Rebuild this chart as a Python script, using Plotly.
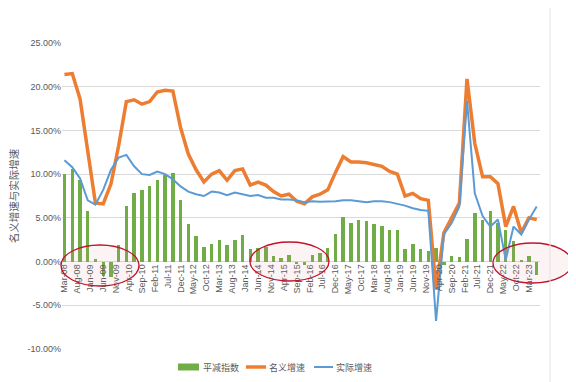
import plotly.graph_objects as go
import pandas as pd

# Quarterly data, 2008Q1 (Mar-08) .. 2023Q2 (Jun-23)
quarters = pd.date_range("2008-03-01", "2023-06-01", freq="3MS").strftime("%Y-%m-%d").tolist()

nominal = [21.4, 21.5, 18.6, 12.5, 6.7, 6.6, 8.9, 13.3, 18.3, 18.5, 18.0, 18.3, 19.4, 19.6, 19.5, 15.3,
           12.3, 10.5, 9.1, 10.0, 10.4, 9.3, 10.4, 10.6, 8.75, 9.1, 8.75, 8.0, 7.5, 7.7, 6.9, 6.6,
           7.4, 7.7, 8.2, 10.2, 12.0, 11.4, 11.4, 11.3, 11.1, 10.9, 10.3, 10.0, 7.5, 7.8, 7.2, 7.0,
           -3.2, 3.3, 5.0, 6.7, 20.9, 13.5, 9.7, 9.7, 8.9, 4.0, 6.3, 3.3, 5.0, 4.8]

real = [11.6, 10.8, 9.5, 7.0, 6.5, 8.2, 10.5, 11.9, 12.2, 10.9, 10.0, 9.9, 10.3, 10.0, 9.4, 8.6,
        8.0, 7.7, 7.5, 8.0, 7.9, 7.6, 7.9, 7.7, 7.5, 7.6, 7.3, 7.3, 7.1, 7.1, 7.0, 6.8,
        6.9, 6.85, 6.85, 6.9, 7.0, 7.0, 6.9, 6.8, 6.9, 6.9, 6.8, 6.6, 6.4, 6.1, 5.9, 5.8,
        -6.8, 3.1, 4.4, 6.3, 18.4, 7.8, 5.2, 4.0, 4.8, 0.2, 4.0, 3.1, 4.8, 6.3]

deflator = [10.0, 10.6, 9.3, 5.8, 0.3, -1.7, -1.8, 1.9, 6.3, 7.8, 8.2, 8.6, 9.3, 9.9, 10.1, 7.0,
            4.3, 2.9, 1.7, 2.0, 2.5, 1.85, 2.5, 3.0, 1.4, 1.55, 1.7, 0.6, 0.4, 0.7, -0.3, -0.4,
            0.7, 1.0, 1.5, 3.1, 5.1, 4.4, 4.7, 4.6, 4.3, 4.1, 3.6, 3.6, 1.4, 2.0, 1.4, 1.2,
            1.5, -0.4, 0.6, 0.5, 2.6, 5.6, 4.8, 5.8, 4.4, 3.6, 2.3, 0.15, 0.6, -1.5]

series_names = ["平减指数", "名义增速", "实际增速"]
y_title = "名义增速与实际增速"
y_ticks = [-10, -5, 0, 5, 10, 15, 20, 25]
y_tick_labels = ["-10.00%", "-5.00%", "0.00%", "5.00%", "10.00%", "15.00%", "20.00%", "25.00%"]

GREEN = "#70AD47"
ORANGE = "#ED7D31"
BLUE = "#5B9BD5"
GRID = "#D9D9D9"
TXT = "#595959"
FONT = "Liberation Sans, Noto Sans CJK SC, sans-serif"
colors = [GREEN, ORANGE, BLUE]

fig = go.Figure()
fig.add_trace(go.Bar(x=quarters, y=deflator, name=series_names[0], marker_color=GREEN,
                     width=40 * 86400000, marker_line_width=0))
fig.add_trace(go.Scatter(x=quarters, y=nominal, name=series_names[1], mode="lines",
                         line=dict(color=ORANGE, width=3.5)))
fig.add_trace(go.Scatter(x=quarters, y=real, name=series_names[2], mode="lines",
                         line=dict(color=BLUE, width=2)))

OFF = 8  # page body margin
W, H = 576 - OFF, 382 - OFF
ml, mt = 62 - OFF, 43 - OFF
mr = W - (540 - OFF)
mb = H - (349 - OFF)
pw, ph = W - ml - mr, H - mt - mb

def px(x):  # screen x -> paper fraction
    return (x - OFF - ml) / pw

def py(y):  # screen y -> paper fraction
    return (H - mb - (y - OFF)) / ph

ellipses = [(61, 245, 139, 286), (250, 242, 329, 281), (493, 243, 572, 283)]
shapes = []
for (x0, y0, x1, y1) in ellipses:
    shapes.append(dict(type="circle", xref="paper", yref="paper",
                       x0=px(x0), x1=px(x1), y0=py(y1), y1=py(y0),
                       line=dict(color="#C0142B", width=1.3),
                       fillcolor="rgba(225,140,150,0.10)", layer="above"))
shapes.append(dict(type="line", xref="paper", yref="paper", x0=px(550), x1=px(550),
                   y0=py(382), y1=py(0), line=dict(color="#E3E3E3", width=1)))

# custom legend (Excel style)
leg_y = 367
leg_items = [(178, 199, 201), (246, 266, 267), (314, 333, 334)]
annotations = []
for k, (s0, s1, tx) in enumerate(leg_items):
    if k == 0:
        shapes.append(dict(type="rect", xref="paper", yref="paper",
                           x0=px(s0), x1=px(s1), y0=py(leg_y + 3.5), y1=py(leg_y - 3.5),
                           fillcolor=colors[k], line=dict(width=0)))
    else:
        shapes.append(dict(type="line", xref="paper", yref="paper",
                           x0=px(s0), x1=px(s1), y0=py(leg_y), y1=py(leg_y),
                           line=dict(color=colors[k], width=3.5 if k == 1 else 2)))
    annotations.append(dict(text=series_names[k], xref="paper", yref="paper",
                            x=px(tx), y=py(leg_y), xanchor="left", yanchor="middle",
                            showarrow=False, font=dict(size=9, color=TXT)))

fig.update_layout(
    width=W, height=H,
    margin=dict(l=ml, r=mr, t=mt, b=mb, autoexpand=False),
    paper_bgcolor="white", plot_bgcolor="white",
    font=dict(family=FONT, color=TXT, size=9),
    bargap=0,
    showlegend=False,
    shapes=shapes,
    annotations=annotations,
    xaxis=dict(type="date", range=["2008-02-01", "2023-07-10"], tick0="2008-03-01", dtick="M5",
               tickformat="%b-%y", tickangle=-90, showgrid=False, showline=False, zeroline=False,
               anchor="free", position=10 / 35, ticks="", tickfont=dict(size=9, color=TXT)),
    yaxis=dict(range=[-10, 25], tickvals=y_ticks, ticktext=y_tick_labels,
               showgrid=True, gridcolor=GRID, gridwidth=1, zeroline=True, zerolinecolor=GRID,
               zerolinewidth=1, showline=False, ticks="", tickfont=dict(size=9, color=TXT),
               title=dict(text=y_title, font=dict(size=10.5, color=TXT), standoff=6)),
)

fig.write_html("out.html")
